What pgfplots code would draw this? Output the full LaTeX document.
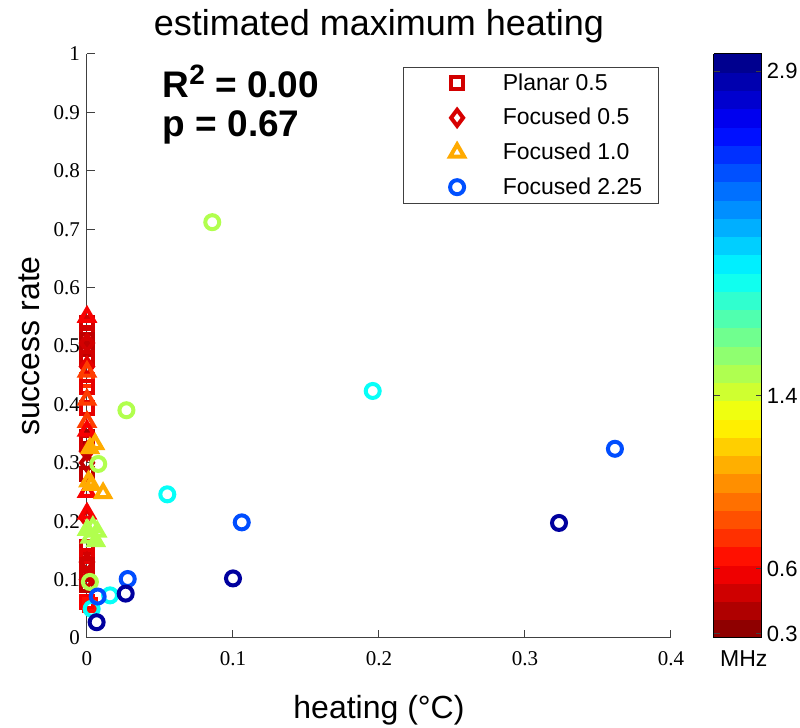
\documentclass[border=0pt]{standalone}
\usepackage{pgfplots}
\pgfplotsset{compat=1.18}
\usepackage{fontspec}
\setmainfont{Liberation Sans}
\newfontfamily\tickfont{Liberation Serif}

\definecolor{legsq}{RGB}{210,0,0}
\definecolor{legdm}{RGB}{215,0,0}
\definecolor{legtri}{RGB}{255,170,0}
\definecolor{legcirc}{RGB}{0,80,255}

% heating (degC), success rate, frequency (MHz)
\pgfplotstableread{
x y f
0.000 0.539 0.50
0.000 0.522 0.50
0.000 0.510 0.45
0.000 0.495 0.45
0.000 0.480 0.50
0.000 0.442 0.75
0.000 0.430 0.55
0.000 0.394 0.55
0.000 0.345 0.38
0.000 0.335 0.50
0.000 0.280 0.45
0.000 0.155 0.50
0.000 0.140 0.55
0.000 0.125 0.50
0.000 0.110 0.50
0.000 0.090 0.45
0.000 0.062 0.60
0.002 0.057 0.65
}\planarA

\pgfplotstableread{
x y f
0.000 0.505 0.50
0.000 0.465 0.55
0.000 0.320 0.50
0.000 0.300 0.45
0.000 0.205 0.55
0.000 0.130 0.50
0.000 0.100 0.50
}\focA

\pgfplotstableread{
x y f
0.000 0.550 0.60
0.000 0.456 0.78
0.000 0.408 0.78
0.000 0.370 0.78
0.000 0.355 0.60
0.000 0.250 0.60
0.000 0.213 0.60
0.0055 0.332 1.07
0.002 0.325 1.07
0.001 0.268 1.07
0.003 0.262 1.07
0.011 0.248 1.07
0.000 0.185 1.50
0.004 0.190 1.50
0.007 0.182 1.50
0.002 0.172 1.50
0.006 0.166 1.50
}\focB

\pgfplotstableread{
x y f
0.0858 0.712 1.50
0.0270 0.390 1.50
0.0077 0.298 1.50
0.0020 0.096 1.50
0.1957 0.423 1.95
0.0550 0.246 1.95
0.0158 0.073 1.95
0.0032 0.050 1.95
0.1060 0.198 2.44
0.0279 0.101 2.44
0.0073 0.071 2.44
0.3616 0.324 2.44
0.3233 0.197 2.90
0.1000 0.102 2.90
0.0265 0.076 2.90
0.0066 0.027 2.90
}\focC

\pgfplotsset{
    legmark/.style={only marks, mark options={line width=2pt},
        legend image code/.code={%
            \path (0cm,0cm) (1.45cm,0cm);
            \draw[mark repeat=2, mark phase=2, ##1]
            plot coordinates {(0cm,0cm) (0.725cm,0cm) (1.45cm,0cm)};}},
}

\begin{document}
\begin{tikzpicture}
\begin{axis}[
    name=ax,
    width=292pt, height=292pt, scale only axis,
    xmin=0, xmax=0.4, ymin=0, ymax=1,
    xtick={0,0.1,0.2,0.3,0.4},
    ytick={0,0.1,0.2,0.3,0.4,0.5,0.6,0.7,0.8,0.9,1},
    yticklabels={0,0.1,0.2,0.3,0.4,0.5,0.6,0.7,0.8,0.9,1},
    xticklabels={0,0.1,0.2,0.3,0.4},
    axis lines*=left,
    axis line style={black!75, line width=0.5pt},
    tick align=inside, major tick length=4pt,
    tick style={black!75, line width=0.5pt},
    ticklabel style={font=\tickfont\fontsize{10.5}{12}\selectfont},
    xticklabel style={yshift=-3pt},
    /pgf/number format/assume math mode=true,
    title={estimated maximum heating},
    title style={font=\fontsize{18}{20}\selectfont, yshift=-4pt},
    xlabel={heating (°C)},
    ylabel={success rate},
    label style={font=\fontsize{16}{18}\selectfont},
    xlabel style={yshift=-8pt},
    clip=false,
    colormap={rjet}{rgb(0cm)=(0.5,0,0); rgb(1cm)=(1,0,0); rgb(3cm)=(1,1,0);
        rgb(5cm)=(0,1,1); rgb(7cm)=(0,0,1); rgb(8cm)=(0,0,0.5)},
    point meta min=0.28, point meta max=2.98,
    colorbar, colorbar sampled,
    colorbar style={
        width=24pt, samples=33,
        xshift=3pt,
        ytick={0.3,0.6,1.4,2.9},
        yticklabels={0.3,0.6,1.4,2.9},
        ytick pos=both, yticklabel pos=right,
        tick align=inside, major tick length=3pt,
        yticklabel style={font=\fontsize{11}{12}\selectfont, xshift=-1pt},
        /pgf/number format/assume math mode=true,
        axis line style={black, line width=0.5pt},
        xlabel={MHz},
        xlabel style={font=\fontsize{11.5}{12}\selectfont, yshift=-3pt, xshift=3pt},
    },
    legend cell align=left,
    legend style={at={(0.979,0.978)}, anchor=north east,
        draw=black!75, line width=0.5pt,
        font=\fontsize{11.5}{13}\selectfont,
        inner xsep=6pt, inner ysep=1pt,
        row sep=3.5pt},
]
\addlegendimage{legmark, mark=square, mark size=3pt, draw=legsq}
\addlegendimage{legmark, mark=diamond, mark size=4pt, draw=legdm}
\addlegendimage{legmark, mark=triangle, mark size=4pt, draw=legtri}
\addlegendimage{legmark, mark=o, mark size=3.5pt, draw=legcirc}
\legend{Planar 0.5, Focused 0.5, Focused 1.0, Focused 2.25}

\addplot[scatter, only marks, forget plot, mark=square, mark size=3pt,
    mark options={line width=2pt},
    scatter/use mapped color={draw=mapped color},
    point meta=explicit] table[x=x, y=y, meta=f] {\planarA};
\addplot[scatter, only marks, forget plot, mark=diamond, mark size=4pt,
    mark options={line width=2pt},
    scatter/use mapped color={draw=mapped color},
    point meta=explicit] table[x=x, y=y, meta=f] {\focA};
\addplot[scatter, only marks, forget plot, mark=triangle, mark size=4pt,
    mark options={line width=2pt},
    scatter/use mapped color={draw=mapped color},
    point meta=explicit] table[x=x, y=y, meta=f] {\focB};
\addplot[scatter, only marks, forget plot, mark=o, mark size=3.5pt,
    mark options={line width=2pt},
    scatter/use mapped color={draw=mapped color},
    point meta=explicit] table[x=x, y=y, meta=f] {\focC};

\node[anchor=base west, font=\bfseries\fontsize{18.5}{18.5}\selectfont]
    at (axis cs:0.047,0.925) {R{\fontsize{14}{14}\selectfont\raisebox{6.5pt}{2}} = 0.00};
\node[anchor=base west, font=\bfseries\fontsize{18.5}{18.5}\selectfont]
    at (axis cs:0.047,0.858) {p = 0.67};
\end{axis}
\pgfresetboundingbox
\path[use as bounding box] ([shift={(-43.5pt,-45pt)}]ax.south west) rectangle ++(400pt,364pt);
\end{tikzpicture}
\end{document}
